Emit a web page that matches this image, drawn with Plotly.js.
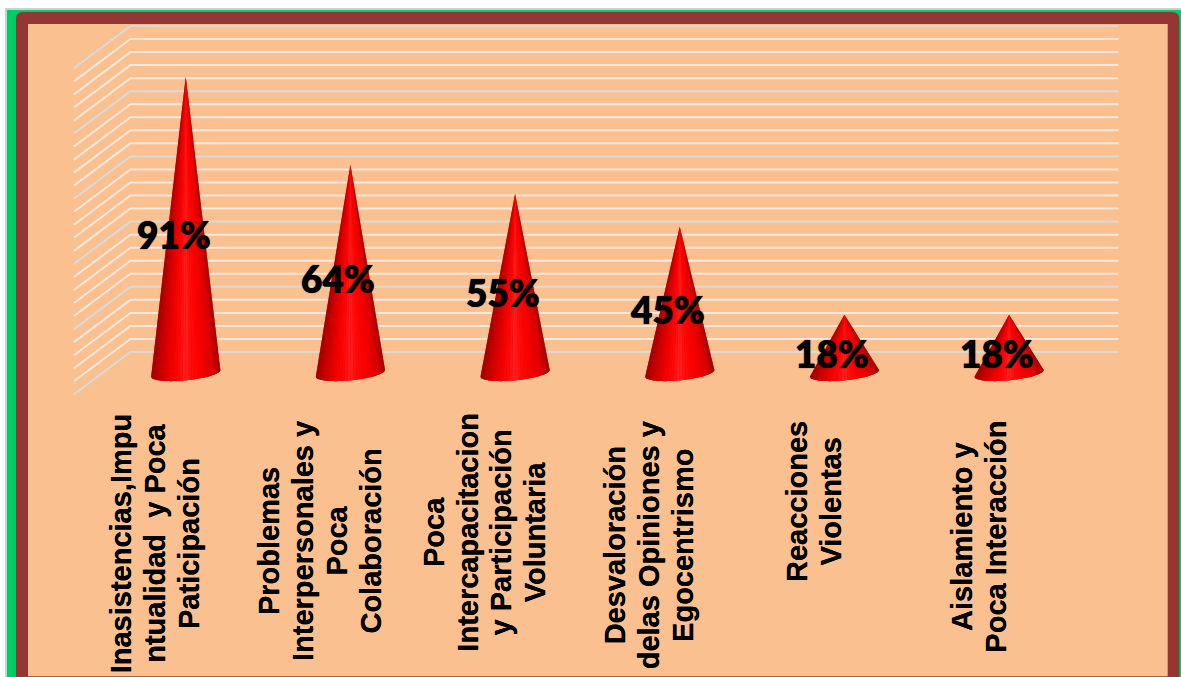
<!DOCTYPE html>
<html><head><meta charset="utf-8">
<script src="https://cdn.plot.ly/plotly-3.0.1.min.js"></script>
<style>html,body{margin:0;padding:0;background:#fff}#c{width:1181px;height:677px}</style>
</head><body><div id="c"></div>
<script>
// ---- data ----
const categories = [
  "Inasistencias,Impu<br>ntualidad\u00a0\u00a0y Poca<br>Paticipación",
  "Problemas<br>Interpersonales y<br>Poca<br>Colaboración",
  "Poca<br>Intercapacitacion<br>y Participación<br>Voluntaria",
  "Desvaloración<br>delas Opiniones y<br>Egocentrismo",
  "Reacciones<br>Violentas",
  "Aislamiento y<br>Poca Interacción"
];
const values = [91, 64, 55, 45, 18, 18];
const gridMajor = [0, 20, 40, 60, 80, 100];
const gridMinor = [4, 8, 12, 16, 24, 28, 32, 36, 44, 48, 52, 56, 64, 68, 72, 76, 84, 88, 92, 96];

// ---- page geometry ----
const W = 1181, H = 677;
const CAT_PX = 164.67, X0_PX = 156.3, Y0_PX = 352, UNIT_PX = 3.26;
const pxX = p => (p - X0_PX) / CAT_PX;          // pixel to category units
const pxY = p => (Y0_PX - p) / UNIT_PX;         // pixel to value units
const dX = 56.5 / CAT_PX, dY = 42.3 / UNIT_PX;  // floor depth
const labelMidPx = [543, 541, 532, 545, 501, 537];

const traces = [];
function wall(v, color) {
  traces.push({type:'scatter', mode:'lines', hoverinfo:'skip', showlegend:false,
    x:[-0.5, -0.5 + dX, 5.5 + dX], y:[v - dY, v, v],
    line:{color:color, width:2, simplify:false}});
}
gridMinor.forEach(v => wall(v, '#F3E8DE'));
gridMajor.forEach(v => wall(v, '#D9D9D9'));

// cone shading: colour by position across the visible half (0=left edge, 1=right edge)
const stops = [[0,[140,0,0]],[0.1,[190,0,0]],[0.28,[240,0,0]],[0.4,[255,8,8]],[0.5,[255,34,34]],[0.58,[255,10,10]],[0.72,[250,0,0]],[0.9,[215,0,0]],[1,[150,0,0]]];
function shade(t){
  for (let i=1;i<stops.length;i++) if (t<=stops[i][0]) {
    const a=stops[i-1], b=stops[i], f=(t-a[0])/(b[0]-a[0]);
    const c=a[1].map((q,k)=>Math.round(q+(b[1][k]-q)*f));
    return `rgb(${c[0]},${c[1]},${c[2]})`;
  }
  return 'rgb(150,0,0)';
}
const A_X = 34.6 / CAT_PX, A_Y = 3.3 / UNIT_PX, B_Y = 7 / UNIT_PX;
const N = 36;
function basePoint(cx, cy, th){ // th 0 = right end, PI = left end, via the front
  return [cx + A_X*Math.cos(th), cy + A_Y*Math.cos(th) - B_Y*Math.sin(th)];
}
const CONE_SHIFT = 1.2 / CAT_PX;
values.forEach((v,i) => {
  const cx = i + dX/2 + CONE_SHIFT, cy = pxY(373.4), tip = cy + v;
  const ox=[cx], oy=[tip];
  for (let k=0;k<=N;k++){const p=basePoint(cx,cy,Math.PI*k/N); ox.push(p[0]); oy.push(p[1]);}
  ox.push(cx); oy.push(tip);
  traces.push({type:'scatter',mode:'none',fill:'toself',fillcolor:'rgb(235,0,0)',x:ox,y:oy,hoverinfo:'skip',showlegend:false});
  for (let k=0;k<N;k++){
    const p=basePoint(cx,cy,Math.PI*k/N), q=basePoint(cx,cy,Math.PI*(k+1)/N);
    const t=(1+Math.cos(Math.PI*(k+0.5)/N))/2; // screen position across the width
    traces.push({type:'scatter',mode:'none',fill:'toself',fillcolor:shade(t),
      x:[cx,p[0],q[0],cx],y:[tip,p[1],q[1],tip],hoverinfo:'skip',showlegend:false});
  }
});

// ---- labels ----
const annotations = [];
values.forEach((v,i) => {
  annotations.push({x:i + dX/2 - 10.8/CAT_PX, y:pxY(373.4)+v/2-9/UNIT_PX, xref:'x', yref:'y', showarrow:false,
    text:v+'%', font:{family:'Lato, "Open Sans", sans-serif', size:37, color:'#000', weight:800, shadow:'0 0 1px #000'}, xanchor:'center', yanchor:'middle'});
});
categories.forEach((c,i) => {
  const text = c.split('<br>').map(l => '<span style="font-size:29px">'+l+'</span>').join('<br>');
  annotations.push({x:i - 1/CAT_PX, y:pxY(labelMidPx[i]), xref:'x', yref:'y', showarrow:false, textangle:-90,
    text, align:'center', xanchor:'center', yanchor:'middle',
    font:{family:'"Liberation Sans", Arial, sans-serif', size:26.1, color:'#000', weight:'bold', shadow:'0 0 0.6px #000'}});
});

// ---- frame, in page pixels ----
const px = p => p / W, py = p => 1 - p / H;
function rect(x0,y0,x1,y1,color){return {type:'rect',xref:'paper',yref:'paper',layer:'below',x0:px(x0),x1:px(x1),y0:py(y0),y1:py(y1),fillcolor:color,line:{width:0}};}
const shapes = [
  rect(5,8,1181,677,'#CFCFCF'),
  rect(7,10,1181,677,'#00CC66'),
  {type:'path',xref:'paper',yref:'paper',layer:'below',fillcolor:'#943634',line:{width:0},
   path:`M ${px(16)} ${py(677)} L ${px(16)} ${py(19)} Q ${px(16)} ${py(12)} ${px(23)} ${py(12)} L ${px(1172)} ${py(12)} Q ${px(1179.4)} ${py(12)} ${px(1179.4)} ${py(19)} L ${px(1179.4)} ${py(677)} Z`},
  rect(28,24,1167.7,676.3,'#FAC090')
];

Plotly.newPlot('c', traces, {
  width:W, height:H, margin:{l:0,r:0,t:0,b:0}, paper_bgcolor:'#fff', plot_bgcolor:'rgba(0,0,0,0)', showlegend:false,
  xaxis:{range:[pxX(0),pxX(W)],visible:false,fixedrange:true},
  yaxis:{range:[pxY(H),pxY(0)],visible:false,fixedrange:true},
  shapes, annotations
}, {displayModeBar:false, staticPlot:true});
</script></body></html>
